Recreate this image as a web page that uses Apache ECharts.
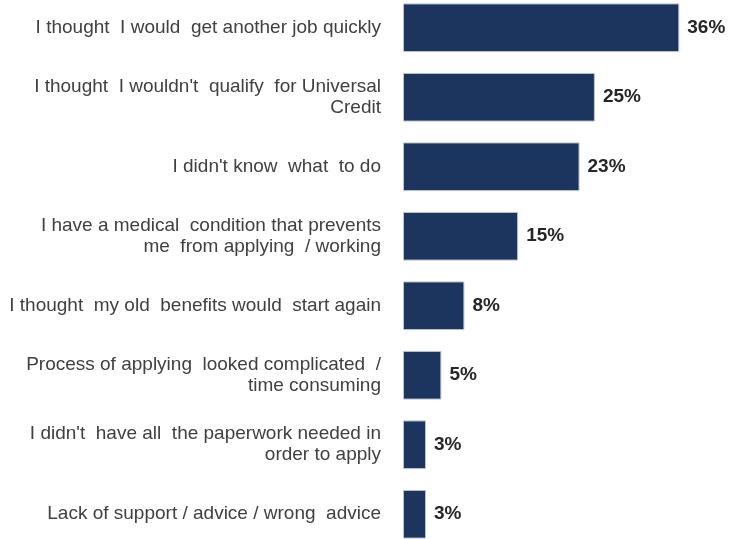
<!DOCTYPE html>
<html>
<head>
<meta charset="utf-8">
<style>
  html, body { margin: 0; padding: 0; background: #ffffff; overflow: hidden; }
  #wrap { position: relative; width: 736px; height: 539px; overflow: hidden; }
  /* the plot runs slightly past the top and bottom edges of the page */
  #chart { position: absolute; left: 0; top: -7px; width: 736px; height: 556px; }
</style>
<script src="https://cdn.jsdelivr.net/npm/echarts@6/dist/echarts.min.js"></script>
</head>
<body>
<div id="wrap"><div id="chart"></div></div>
<script>
// Reasons given for not claiming, top to bottom
const reasons = [
  "I thought  I would  get another job quickly",
  "I thought  I wouldn't  qualify  for Universal\nCredit",
  "I didn't know  what  to do",
  "I have a medical  condition that prevents\nme  from applying  / working",
  "I thought  my old  benefits would  start again",
  "Process of applying  looked complicated  /\ntime consuming",
  "I didn't  have all  the paperwork needed in\norder to apply",
  "Lack of support / advice / wrong  advice"
];
// Share of respondents (%)
const shares = [36, 25, 23, 15, 8, 5, 3, 3];

const chart = echarts.init(document.getElementById('chart'), null, { renderer: 'canvas' });

chart.setOption({
  animation: false,
  backgroundColor: '#ffffff',
  grid: { left: 403, top: 0, width: 307, height: 556, containLabel: false },
  xAxis: {
    type: 'value',
    min: 0,
    max: 40,
    show: false
  },
  yAxis: {
    type: 'category',
    inverse: true,
    data: reasons,
    axisLine: { show: false },
    axisTick: { show: false },
    axisLabel: {
      margin: 22,
      color: '#404040',
      fontFamily: 'Liberation Sans, Arial, sans-serif',
      fontSize: 19,
      lineHeight: 21,
      align: 'right',
      padding: [0, 0, 5, 0]
    }
  },
  series: [{
    type: 'bar',
    data: shares,
    barCategoryGap: '30%',
    itemStyle: {
      color: '#1c355e',
      borderColor: '#b8c3d3',
      borderWidth: 1
    },
    label: {
      show: true,
      position: 'right',
      distance: 8,
      formatter: '{c}%',
      color: '#262626',
      fontFamily: 'Liberation Sans, Arial, sans-serif',
      fontWeight: 'bold',
      fontSize: 19
    }
  }]
});
</script>
</body>
</html>
